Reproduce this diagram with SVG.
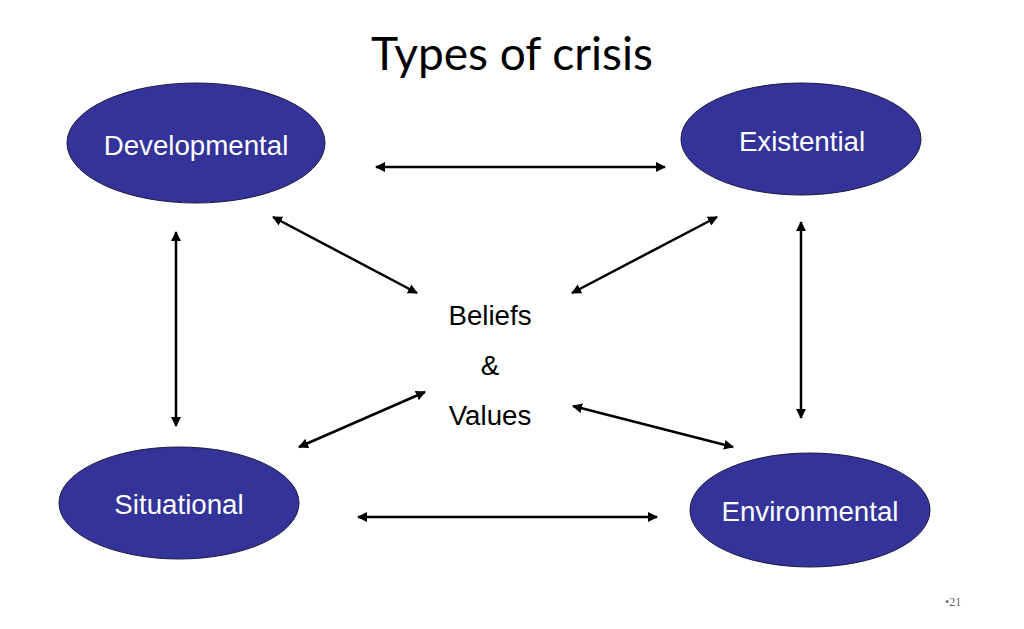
<svg xmlns="http://www.w3.org/2000/svg" width="1024" height="629" viewBox="0 0 1024 629">
<defs>
<marker id="ah" viewBox="0 0 10 10" refX="9" refY="5" markerWidth="4" markerHeight="4" orient="auto-start-reverse" markerUnits="strokeWidth">
<path d="M0,0 L10,5 L0,10 z" fill="#000"/>
</marker>
</defs>
<style>
.node ellipse{fill:#333399;stroke:#1a1a40;stroke-width:1}
.lbl{font-family:"Liberation Sans",Arial,sans-serif;font-size:27.7px;fill:#fff;text-anchor:middle}
.mid{font-family:"Liberation Sans",Arial,sans-serif;font-size:27.7px;fill:#000;text-anchor:middle}
#connectors line{stroke:#000;stroke-width:2.5;marker-start:url(#ah);marker-end:url(#ah)}
</style>
<rect width="1024" height="629" fill="#fff"/>
<text x="512" y="70" font-family="Lato,'Open Sans',sans-serif" font-size="46" text-anchor="middle" fill="#000">Types of crisis</text>
<g id="developmental" class="node"><ellipse cx="196" cy="143" rx="129" ry="60"/><text class="lbl" x="196" y="155">Developmental</text></g>
<g id="existential" class="node"><ellipse cx="801" cy="139" rx="120" ry="56"/><text class="lbl" x="802" y="151">Existential</text></g>
<g id="situational" class="node"><ellipse cx="179" cy="503" rx="120" ry="56"/><text class="lbl" x="179" y="514">Situational</text></g>
<g id="environmental" class="node"><ellipse cx="810" cy="510" rx="120" ry="57"/><text class="lbl" x="810" y="521">Environmental</text></g>
<g id="beliefs">
<text class="mid" x="490" y="325">Beliefs</text>
<text class="mid" x="490" y="375">&amp;</text>
<text class="mid" x="490" y="425">Values</text>
</g>
<g id="connectors">
<line x1="376" y1="167" x2="665" y2="167"/>
<line x1="358" y1="517" x2="657" y2="517"/>
<line x1="176" y1="232" x2="176" y2="426"/>
<line x1="801" y1="222" x2="801" y2="418"/>
<line x1="273" y1="217" x2="417" y2="293"/>
<line x1="717" y1="217" x2="572" y2="293"/>
<line x1="425" y1="392" x2="299" y2="447"/>
<line x1="573" y1="406" x2="733" y2="447"/>
</g>
<text x="945" y="606" font-family="'Liberation Serif',serif" font-size="12" fill="#666">•21</text>
</svg>
